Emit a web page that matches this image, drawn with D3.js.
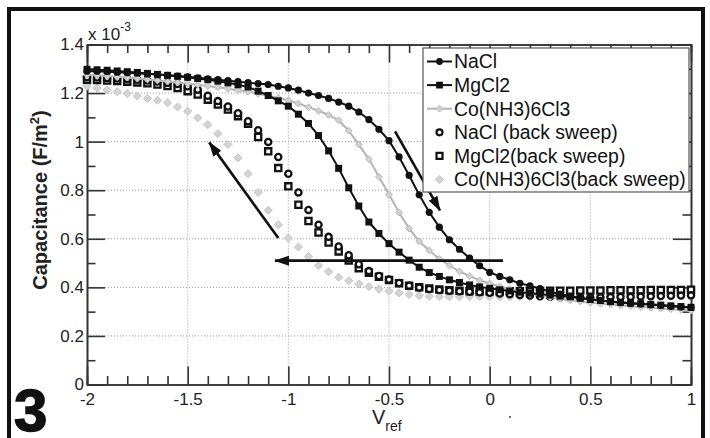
<!DOCTYPE html>
<html>
<head>
<meta charset="utf-8">
<script src="https://cdn.jsdelivr.net/npm/d3@7"></script>
<style>
body { margin: 0; background: #fff; }
svg { display: block; font-family: "Liberation Sans", Arial, sans-serif; }
</style>
</head>
<body>
<svg id="drawing_region"></svg>
<script>
// reference voltage (V), one point every 0.05 V
const vref = [-2,-1.95,-1.9,-1.85,-1.8,-1.75,-1.7,-1.65,-1.6,-1.55,
    -1.5,-1.45,-1.4,-1.35,-1.3,-1.25,-1.2,-1.15,-1.1,-1.05,
    -1,-0.95,-0.9,-0.85,-0.8,-0.75,-0.7,-0.65,-0.6,-0.55,
    -0.5,-0.45,-0.4,-0.35,-0.3,-0.25,-0.2,-0.15,-0.1,-0.05,
    0,0.05,0.1,0.15,0.2,0.25,0.3,0.35,0.4,0.45,
    0.5,0.55,0.6,0.65,0.7,0.75,0.8,0.85,0.9,0.95,1];

// capacitance, x 10^-3 F/m^2
const naclFwd = [1.290,1.290,1.288,1.286,1.284,1.282,1.279,1.276,1.273,1.270,
    1.267,1.263,1.259,1.255,1.251,1.247,1.243,1.239,1.235,1.228,
    1.221,1.212,1.200,1.190,1.178,1.163,1.146,1.122,1.091,1.051,
    1.004,0.937,0.861,0.781,0.709,0.648,0.596,0.557,0.520,0.489,
    0.462,0.445,0.431,0.417,0.406,0.395,0.382,0.372,0.364,0.357,
    0.351,0.346,0.341,0.337,0.334,0.331,0.328,0.325,0.322,0.319,0.317];

const mgFwd = [1.298,1.296,1.294,1.291,1.288,1.285,1.281,1.277,1.273,1.269,
    1.265,1.260,1.255,1.249,1.242,1.234,1.225,1.208,1.190,1.168,
    1.146,1.113,1.075,1.025,0.962,0.890,0.810,0.735,0.669,0.622,
    0.580,0.545,0.512,0.483,0.461,0.445,0.431,0.420,0.410,0.402,
    0.396,0.390,0.385,0.380,0.376,0.372,0.368,0.364,0.361,0.355,
    0.350,0.346,0.342,0.339,0.336,0.333,0.330,0.327,0.324,0.321,0.318];

const coFwd = [1.275,1.273,1.270,1.267,1.264,1.260,1.256,1.252,1.248,1.244,
    1.239,1.234,1.229,1.224,1.218,1.212,1.206,1.197,1.189,1.180,
    1.170,1.157,1.142,1.127,1.110,1.088,1.045,0.988,0.928,0.855,
    0.782,0.708,0.642,0.590,0.552,0.517,0.490,0.466,0.446,0.429,
    0.416,0.404,0.393,0.383,0.374,0.366,0.359,0.353,0.347,0.342,
    0.337,0.333,0.329,0.325,0.322,0.319,0.316,0.313,0.310,0.307,0.304];

const naclBack = [1.265,1.264,1.262,1.260,1.258,1.255,1.252,1.248,1.242,1.237,
    1.228,1.214,1.189,1.167,1.145,1.117,1.084,1.047,0.999,0.937,
    0.868,0.791,0.719,0.658,0.608,0.568,0.532,0.495,0.467,0.447,
    0.432,0.418,0.407,0.399,0.393,0.389,0.386,0.384,0.382,0.380,
    0.378,0.375,0.372,0.369,0.366,0.363,0.361,0.359,0.358,0.357,
    0.357,0.358,0.359,0.360,0.361,0.362,0.363,0.364,0.365,0.366,0.367];

const mgBack = [1.255,1.254,1.252,1.250,1.247,1.244,1.240,1.235,1.229,1.221,
    1.208,1.194,1.173,1.153,1.132,1.105,1.074,1.019,0.960,0.891,
    0.816,0.740,0.673,0.626,0.585,0.548,0.511,0.479,0.460,0.444,
    0.430,0.417,0.407,0.400,0.395,0.391,0.388,0.386,0.384,0.383,
    0.383,0.383,0.384,0.384,0.385,0.385,0.386,0.386,0.386,0.387,
    0.387,0.387,0.388,0.388,0.388,0.388,0.389,0.389,0.389,0.389,0.390];

const coBack = [1.228,1.221,1.213,1.206,1.198,1.188,1.177,1.170,1.160,1.143,
    1.125,1.098,1.070,1.033,0.988,0.933,0.868,0.791,0.717,0.658,
    0.603,0.566,0.528,0.490,0.464,0.442,0.427,0.414,0.403,0.393,
    0.384,0.377,0.371,0.366,0.363,0.362,0.361,0.361,0.361,0.361,
    0.361,0.361,0.361,0.362,0.362,0.362,0.362,0.363,0.363,0.363,
    0.364,0.364,0.364,0.365,0.365,0.365,0.366,0.366,0.366,0.367,0.367];

const xTicks = [-2,-1.5,-1,-0.5,0,0.5,1];
const yTicks = [0,0.2,0.4,0.6,0.8,1,1.2,1.4];
const xMinor = [-1.9,-1.8,-1.7,-1.6,-1.4,-1.3,-1.2,-1.1,-0.9,-0.8,-0.7,-0.6,
    -0.4,-0.3,-0.2,-0.1,0.1,0.2,0.3,0.4,0.6,0.7,0.8,0.9];
const yMinor = [0.1,0.3,0.5,0.7,0.9,1.1,1.3];

const seriesNames = ['NaCl','MgCl2','Co(NH3)6Cl3','NaCl (back sweep)','MgCl2(back sweep)','Co(NH3)6Cl3(back sweep)'];

// arrows drawn on the plot, in data units [x1, y1, x2, y2]
const arrows = [
    [-0.47, 1.042, -0.247, 0.717],
    [0.066, 0.51, -1.066, 0.51],
    [-1.05, 0.603, -1.393, 0.997]
];

const W = 710, H = 438;
const plot = {left: 87, right: 691, top: 44.5, bottom: 384.5};

const svg = d3.select('#drawing_region')
    .attr('width', W)
    .attr('height', H);

svg.append('rect')
    .attr('width', W).attr('height', H)
    .attr('fill', '#fff');

// outer figure frame
svg.append('rect')
    .attr('x', 9).attr('y', 9)
    .attr('width', 694).attr('height', 460)
    .attr('fill', 'none')
    .attr('stroke', '#111')
    .attr('stroke-width', 4);

const xscale = d3.scaleLinear().domain([-2, 1]).range([plot.left, plot.right]);
const yscale = d3.scaleLinear().domain([0, 1.4]).range([plot.bottom, plot.top]);

const defs = svg.append('defs');
defs.append('marker')
    .attr('id', 'head')
    .attr('markerUnits', 'userSpaceOnUse')
    .attr('markerWidth', 15).attr('markerHeight', 10)
    .attr('refX', 14).attr('refY', 5)
    .attr('orient', 'auto')
    .append('path')
    .attr('d', 'M0,0 L15,5 L0,10 Z')
    .attr('fill', '#111');

// grid
const grid = svg.append('g')
    .attr('stroke', '#9a9a9a')
    .attr('stroke-width', 1)
    .attr('stroke-dasharray', '1,2');
grid.selectAll('.gx').data(xTicks.slice(1, -1)).enter()
    .append('line')
    .attr('x1', d => xscale(d)).attr('x2', d => xscale(d))
    .attr('y1', plot.top).attr('y2', plot.bottom);
grid.selectAll('.gy').data(yTicks.slice(1, -1)).enter()
    .append('line')
    .attr('y1', d => yscale(d)).attr('y2', d => yscale(d))
    .attr('x1', plot.left).attr('x2', plot.right);

// axes
function styleAxis(g) {
    g.attr('font-family', null).attr('font-size', 17);
    g.selectAll('.domain').attr('stroke', '#333').attr('stroke-width', 1.6);
    g.selectAll('line').attr('stroke', '#333').attr('stroke-width', 1.6);
    g.selectAll('text').attr('fill', '#222');
}

const fmt = d => String(+d.toFixed(1));

svg.append('g')
    .attr('transform', `translate(0,${plot.bottom})`)
    .call(d3.axisBottom(xscale).tickValues(xTicks).tickSizeInner(-18).tickSizeOuter(0).tickPadding(8).tickFormat(fmt))
    .call(styleAxis);
svg.append('g')
    .attr('transform', `translate(0,${plot.bottom})`)
    .call(d3.axisBottom(xscale).tickValues(xMinor).tickSize(-8.5).tickFormat(''))
    .call(styleAxis);
svg.append('g')
    .attr('transform', `translate(0,${plot.top})`)
    .call(d3.axisTop(xscale).tickValues(xTicks).tickSizeInner(-18).tickSizeOuter(0).tickFormat(''))
    .call(styleAxis);
svg.append('g')
    .attr('transform', `translate(0,${plot.top})`)
    .call(d3.axisTop(xscale).tickValues(xMinor).tickSize(-8.5).tickFormat(''))
    .call(styleAxis);

svg.append('g')
    .attr('transform', `translate(${plot.left},0)`)
    .call(d3.axisLeft(yscale).tickValues(yTicks).tickSizeInner(-18).tickSizeOuter(0).tickPadding(3).tickFormat(fmt))
    .call(styleAxis);
svg.append('g')
    .attr('transform', `translate(${plot.left},0)`)
    .call(d3.axisLeft(yscale).tickValues(yMinor).tickSize(-8.5).tickFormat(''))
    .call(styleAxis);
svg.append('g')
    .attr('transform', `translate(${plot.right},0)`)
    .call(d3.axisRight(yscale).tickValues(yTicks).tickSizeInner(-18).tickSizeOuter(0).tickFormat(''))
    .call(styleAxis);
svg.append('g')
    .attr('transform', `translate(${plot.right},0)`)
    .call(d3.axisRight(yscale).tickValues(yMinor).tickSize(-8.5).tickFormat(''))
    .call(styleAxis);

// marker shapes
const diamond = r => `M0,${-r}L${r},0L0,${r}L${-r},0Z`;
const square = s => `M${-s},${-s}H${s}V${s}H${-s}Z`;

function drawMarkers(g, values, kind) {
    const pts = values.map((v, i) => [vref[i], v]);
    const sel = g.selectAll(null).data(pts).enter();
    if (kind === 'fcircle') {
        sel.append('circle')
            .attr('cx', d => xscale(d[0])).attr('cy', d => yscale(d[1]))
            .attr('r', 3.6).attr('fill', '#111');
    } else if (kind === 'fsquare') {
        sel.append('path')
            .attr('transform', d => `translate(${xscale(d[0])},${yscale(d[1])})`)
            .attr('d', square(3.5)).attr('fill', '#111');
    } else if (kind === 'ocircle') {
        sel.append('circle')
            .attr('cx', d => xscale(d[0])).attr('cy', d => yscale(d[1]))
            .attr('r', 3.1).attr('fill', '#fff').attr('stroke', '#111').attr('stroke-width', 2.3);
    } else if (kind === 'osquare') {
        sel.append('path')
            .attr('transform', d => `translate(${xscale(d[0])},${yscale(d[1])})`)
            .attr('d', square(3.1)).attr('fill', '#fff').attr('stroke', '#111').attr('stroke-width', 2.3);
    } else if (kind === 'sdiamond') {
        sel.append('path')
            .attr('transform', d => `translate(${xscale(d[0])},${yscale(d[1])})`)
            .attr('d', diamond(3.4)).attr('fill', '#d2d2d2').attr('stroke', '#b8b8b8').attr('stroke-width', 1);
    } else if (kind === 'ldiamond') {
        sel.append('path')
            .attr('transform', d => `translate(${xscale(d[0])},${yscale(d[1])})`)
            .attr('d', diamond(4)).attr('fill', '#d4d4d4').attr('stroke', '#c2c2c2').attr('stroke-width', 1);
    }
}

const line = d3.line()
    .x((d, i) => xscale(vref[i]))
    .y(d => yscale(d));

const chart = svg.append('g');

// back sweeps: markers only
drawMarkers(chart.append('g'), coBack, 'ldiamond');
drawMarkers(chart.append('g'), mgBack, 'osquare');
drawMarkers(chart.append('g'), naclBack, 'ocircle');

// forward sweeps: line + markers
chart.append('path').datum(coFwd)
    .attr('d', line).attr('fill', 'none')
    .attr('stroke', '#b4b4b4').attr('stroke-width', 2);
drawMarkers(chart.append('g'), coFwd, 'sdiamond');

chart.append('path').datum(mgFwd)
    .attr('d', line).attr('fill', 'none')
    .attr('stroke', '#111').attr('stroke-width', 2);
drawMarkers(chart.append('g'), mgFwd, 'fsquare');

chart.append('path').datum(naclFwd)
    .attr('d', line).attr('fill', 'none')
    .attr('stroke', '#111').attr('stroke-width', 2);
drawMarkers(chart.append('g'), naclFwd, 'fcircle');

// arrows
svg.append('g').selectAll('line').data(arrows).enter()
    .append('line')
    .attr('x1', d => xscale(d[0])).attr('y1', d => yscale(d[1]))
    .attr('x2', d => xscale(d[2])).attr('y2', d => yscale(d[3]))
    .attr('stroke', '#111').attr('stroke-width', 2.6)
    .attr('marker-end', 'url(#head)');

// legend
const legend = svg.append('g').attr('transform', 'translate(423,48)');
legend.append('rect')
    .attr('width', 266).attr('height', 144)
    .attr('fill', '#fff').attr('stroke', '#555').attr('stroke-width', 1.2);

const kinds = ['fcircle', 'fsquare', 'sdiamond', 'ocircle', 'osquare', 'ldiamond'];
const entry = legend.selectAll('.entry').data(seriesNames).enter()
    .append('g')
    .attr('transform', (d, i) => `translate(0,${13.5 + i * 23.6})`);
entry.filter((d, i) => i < 3)
    .append('line')
    .attr('x1', 4).attr('x2', 29)
    .attr('stroke', (d, i) => i === 2 ? '#b4b4b4' : '#111')
    .attr('stroke-width', 2);
entry.each(function (d, i) {
    const g = d3.select(this).append('g').attr('transform', 'translate(16.5,0)');
    const k = kinds[i];
    if (k === 'fcircle') g.append('circle').attr('r', 3.4).attr('fill', '#111');
    if (k === 'fsquare') g.append('path').attr('d', square(3.4)).attr('fill', '#111');
    if (k === 'ocircle') g.append('circle').attr('r', 3).attr('fill', '#fff').attr('stroke', '#111').attr('stroke-width', 2.2);
    if (k === 'osquare') g.append('path').attr('d', square(3)).attr('fill', '#fff').attr('stroke', '#111').attr('stroke-width', 2.2);
    if (k === 'sdiamond') g.append('path').attr('d', diamond(3.4)).attr('fill', '#d2d2d2').attr('stroke', '#b8b8b8');
    if (k === 'ldiamond') g.append('path').attr('d', diamond(4)).attr('fill', '#d4d4d4').attr('stroke', '#c2c2c2');
});
entry.append('text')
    .attr('x', 31).attr('dy', '0.36em')
    .attr('font-size', 19.4)
    .attr('fill', '#111')
    .text(d => d);

// multiplier
const mult = svg.append('text')
    .attr('x', 88).attr('y', 40)
    .attr('font-size', 17).attr('fill', '#222');
mult.append('tspan').text('x 10');
mult.append('tspan').attr('dy', -9).attr('font-size', 12).text('-3');

// axis titles
const ylab = svg.append('text')
    .attr('transform', 'translate(46.5,200) rotate(-90)')
    .attr('text-anchor', 'middle')
    .attr('font-size', 20).attr('font-weight', 'bold').attr('fill', '#222');
ylab.append('tspan').text('Capacitance (F/m');
ylab.append('tspan').attr('dy', -8).attr('font-size', 13).text('2');
ylab.append('tspan').attr('dy', 8).text(')');

const xlab = svg.append('text')
    .attr('x', 372).attr('y', 424)
    .attr('font-size', 20).attr('fill', '#222');
xlab.append('tspan').text('V');
xlab.append('tspan').attr('dy', 7).attr('font-size', 14).text('ref');

// stray dot in the figure
svg.append('circle').attr('cx', 510).attr('cy', 417).attr('r', 1).attr('fill', '#444');

// panel number
svg.append('text')
    .attr('x', 14).attr('y', 431)
    .attr('font-size', 60).attr('font-weight', 'bold')
    .attr('stroke', '#111').attr('stroke-width', 1.5)
    .attr('fill', '#111')
    .text('3');
</script>
</body>
</html>
